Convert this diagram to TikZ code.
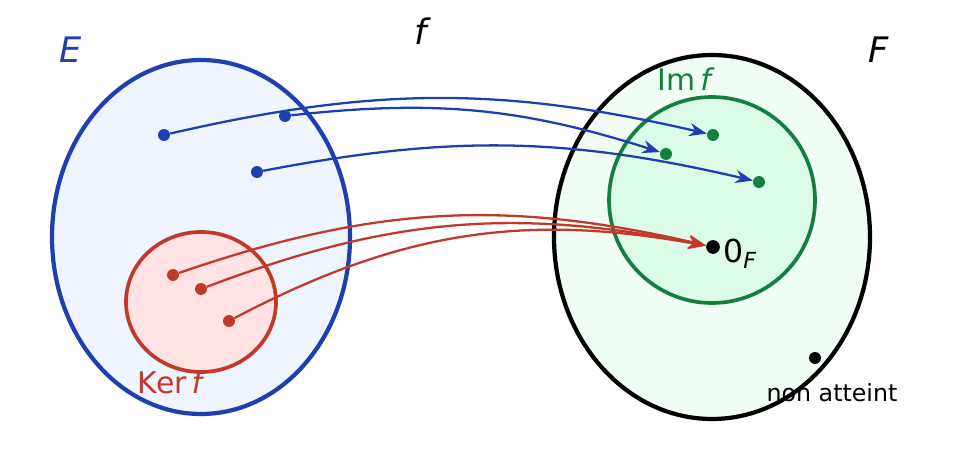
\documentclass[tikz,border=0pt]{standalone}
\usepackage{fontspec}
\setmainfont{DejaVu Sans}
\usepackage{tikz}
\usetikzlibrary{arrows.meta}
\usetikzlibrary{positioning}
\definecolor{e_blue}{RGB}{30,64,175}
\definecolor{e_fill}{RGB}{238,245,255}
\definecolor{k_red}{RGB}{192,57,43}
\definecolor{k_fill}{RGB}{255,227,227}
\definecolor{i_green}{RGB}{21,128,61}
\definecolor{i_fill}{RGB}{220,252,231}
\definecolor{f_fill}{RGB}{240,253,244}

\begin{document}
\begin{tikzpicture}[x=0.02cm, y=0.02cm, >={Stealth[length=10pt, width=7.5pt]},
    dot/.style={circle, fill, inner sep=0pt, minimum size=6.8pt},
    map/.style={->, line width=1.3pt}]
      \useasboundingbox (0,0) rectangle (960,457);
      % sets
      \draw[e_blue, fill=e_fill, line width=2.4pt] (201,220) ellipse [x radius=149, y radius=177];
      \draw[k_red, fill=k_fill, line width=2.1pt] (201,155) ellipse [x radius=75, y radius=70];
      \draw[black, fill=f_fill, line width=2.4pt] (712,220) ellipse [x radius=158, y radius=182];
      \draw[i_green, fill=i_fill, line width=2.1pt] (712,257) circle [radius=103];
      % labels
      \node[e_blue, font=\fontsize{20}{24}\selectfont\itshape] (lE) at (71,407) {E};
      \node[font=\fontsize{20}{24}\selectfont\itshape] (lf) at (421,426) {f};
      \node[font=\fontsize{20}{24}\selectfont\itshape] (lF) at (879,407) {F};
      \node[i_green, font=\fontsize{17}{20}\selectfont] (lIm) at (686,378) {Im\,\textit{f}};
      \node[k_red, font=\fontsize{17}{20}\selectfont] (lKer) at (172,75) {Ker\,\textit{f}};
      \node[font=\fontsize{13.5}{16}\selectfont] (lna) at (832,64) {non atteint};
      % points
      \node[dot, e_blue] (b1) at (164,322) {};
      \node[dot, e_blue] (b2) at (285,341) {};
      \node[dot, e_blue] (b3) at (257,285) {};
      \node[dot, i_green] (g1) at (713,322) {};
      \node[dot, i_green] (g2) at (666,303) {};
      \node[dot, i_green] (g3) at (759,275) {};
      \node[dot, k_red] (r1) at (173,182) {};
      \node[dot, k_red] (r2) at (201,168) {};
      \node[dot, k_red] (r3) at (229,136) {};
      \node[dot, black, minimum size=7.8pt] (z) at (713,210) {};
      \node[dot, black] (n) at (815,99) {};
      \node[font=\fontsize{18}{21}\selectfont, anchor=west] (lz) at (717,203) {0\textsubscript{\textit{F}}};
      % arrows
      \draw[map, e_blue] (b1) to[bend left=13] (g1);
      \draw[map, e_blue] (b2) to[bend left=12] (g2);
      \draw[map, e_blue] (b3) to[bend left=12] (g3);
      \draw[map, k_red] (r1) to[bend left=16] (z);
      \draw[map, k_red] (r2) to[bend left=16] (z);
      \draw[map, k_red] (r3) to[bend left=19] (z);
    \end{tikzpicture}
\end{document}
